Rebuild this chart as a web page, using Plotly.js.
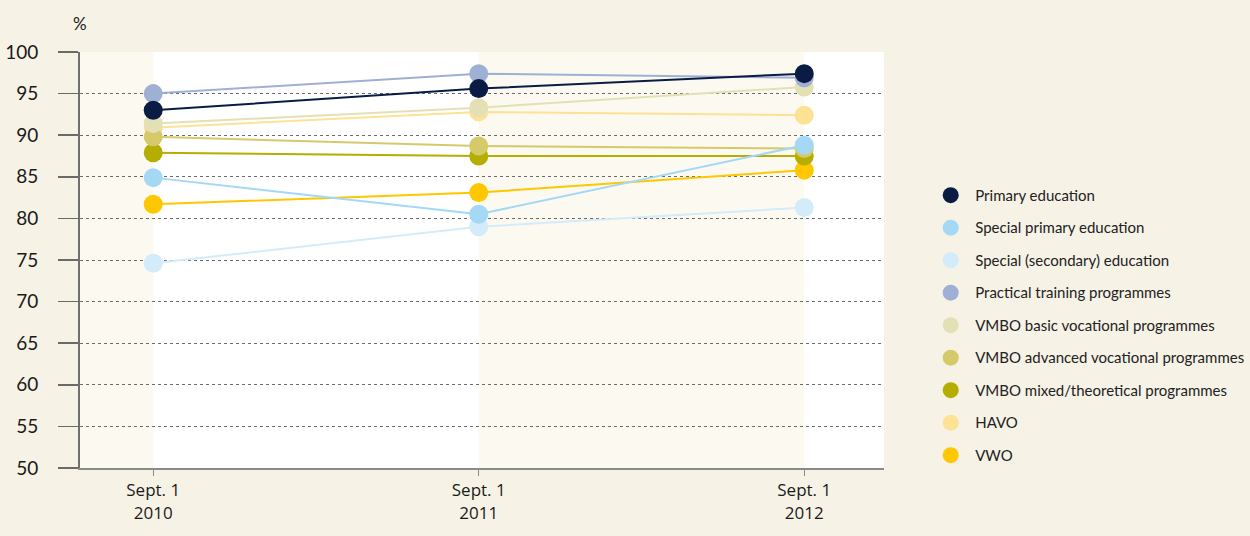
<!DOCTYPE html>
<html>
<head>
<meta charset="utf-8">
<script src="https://cdn.plot.ly/plotly-3.0.1.min.js"></script>
<style>
html,body{margin:0;padding:0;background:#f6f2e6;}
#chart{width:1250px;height:536px;}
</style>
</head>
<body>
<div id="chart"></div>
<script>
// Categories (x axis)
const categories = ['Sept. 1<br>2010', 'Sept. 1<br>2011', 'Sept. 1<br>2012'];

// Series (percent)
const seriesNames = [
  'Primary education',
  'Special primary education',
  'Special (secondary) education',
  'Practical training programmes',
  'VMBO basic vocational programmes',
  'VMBO advanced vocational programmes',
  'VMBO mixed/theoretical programmes',
  'HAVO',
  'VWO'
];
const primaryEducation      = [93.0, 95.6, 97.4];
const specialPrimary        = [84.9, 80.5, 88.8];
const specialSecondary      = [74.6, 79.0, 81.3];
const practicalTraining     = [95.0, 97.4, 96.9];
const vmboBasic             = [91.4, 93.3, 95.8];
const vmboAdvanced          = [89.8, 88.7, 88.4];
const vmboMixed             = [87.9, 87.5, 87.5];
const havo                  = [90.9, 92.8, 92.4];
const vwo                   = [81.7, 83.1, 85.8];

const seriesValues = [primaryEducation, specialPrimary, specialSecondary, practicalTraining,
                      vmboBasic, vmboAdvanced, vmboMixed, havo, vwo];
const seriesColors = ['#0a1c44', '#a4d8f5', '#d4ebfa', '#9fb0d5', '#e4e0b6',
                      '#d5c96a', '#b5ad00', '#fde295', '#ffc700'];

const yTicks = [50, 55, 60, 65, 70, 75, 80, 85, 90, 95, 100];

const traces = [];
// lines first (behind all markers), drawn in reverse legend order
for (let i = seriesNames.length - 1; i >= 0; i--) {
  traces.push({
    x: categories, y: seriesValues[i], type: 'scatter', mode: 'lines',
    line: {color: seriesColors[i], width: 2}, showlegend: false, hoverinfo: 'skip'
  });
}
for (let i = seriesNames.length - 1; i >= 0; i--) {
  traces.push({
    x: categories, y: seriesValues[i], type: 'scatter', mode: 'markers',
    name: seriesNames[i], legendgroup: 'g' + i, legendrank: i + 1,
    marker: {color: seriesColors[i], size: 19, line: {width: 0}}
  });
}

const bandLight = '#fcf9f1';
const layout = {
  width: 1250, height: 536,
  paper_bgcolor: '#f6f2e6',
  plot_bgcolor: '#ffffff',
  margin: {l: 80, r: 366, t: 52, b: 68, autoexpand: false},
  font: {family: 'Lato, "Open Sans", sans-serif', color: '#1a1a1a'},
  xaxis: {
    type: 'category',
    range: [-0.225, 2.245],
    showgrid: false, zeroline: false,
    showline: true, linecolor: '#8a8a8a', linewidth: 2,
    ticks: 'outside', ticklen: 6, tickcolor: '#8a8a8a', tickwidth: 1,
    tickfont: {size: 17, family: '"Liberation Sans Narrow", "Open Sans", sans-serif', color: '#1a1a1a'},
    fixedrange: true
  },
  yaxis: {
    range: [50, 100],
    tickvals: yTicks,
    showgrid: true, gridcolor: '#6b6b6b', griddash: 'dot', gridwidth: 1,
    zeroline: false,
    showline: true, linecolor: '#6f6f6f', linewidth: 2,
    ticks: 'outside', ticklen: 20, tickcolor: '#6a6a6a', tickwidth: 1.5,
    ticklabelstandoff: 16,
    tickfont: {size: 19, color: '#1a1a1a'},
    fixedrange: true
  },
  shapes: [
    {type: 'rect', xref: 'x', yref: 'paper', x0: -0.225, x1: 0, y0: 0, y1: 1,
     fillcolor: bandLight, line: {width: 0}, layer: 'below'},
    {type: 'rect', xref: 'x', yref: 'paper', x0: 1, x1: 2, y0: 0, y1: 1,
     fillcolor: bandLight, line: {width: 0}, layer: 'below'}
  ],
  annotations: [
    {text: '%', xref: 'paper', yref: 'paper', x: 0, y: 1, xanchor: 'center', yanchor: 'bottom',
     yshift: 16, showarrow: false, font: {size: 17, color: '#1a1a1a'}}
  ],
  legend: {
    x: 1.0525, xanchor: 'left', y: 0.695, yanchor: 'top',
    traceorder: 'grouped', tracegroupgap: 10, itemwidth: 39,
    bgcolor: 'rgba(0,0,0,0)',
    font: {size: 15, color: '#222'}
  },
  showlegend: true,
  hovermode: false
};

Plotly.newPlot('chart', traces, layout, {displayModeBar: false, staticPlot: true});
</script>
</body>
</html>
